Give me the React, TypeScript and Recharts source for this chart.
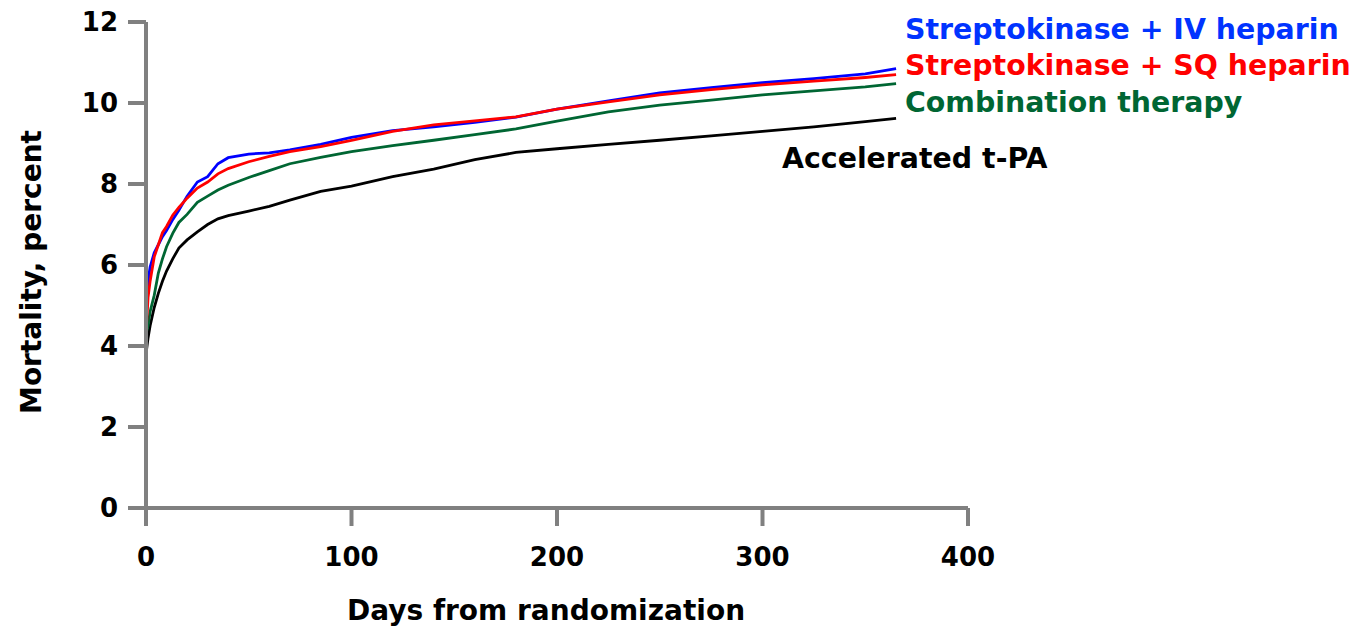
import { LineChart, Line, XAxis, YAxis } from "recharts";

const days = [0, 1, 2, 4, 6, 8, 10, 13, 16, 20, 25, 30, 35, 40, 50, 60, 70, 85, 100, 120, 140, 160, 180, 200, 225, 250, 275, 300, 325, 350, 365];

const ivHeparin = [4.6, 5.6, 5.95, 6.3, 6.5, 6.7, 6.85, 7.12, 7.35, 7.7, 8.05, 8.18, 8.5, 8.65, 8.74, 8.77, 8.84, 8.98, 9.15, 9.32, 9.41, 9.52, 9.65, 9.85, 10.05, 10.25, 10.38, 10.5, 10.6, 10.72, 10.85];
const sqHeparin = [4.3, 5.2, 5.6, 6.2, 6.5, 6.8, 6.95, 7.23, 7.42, 7.65, 7.9, 8.05, 8.25, 8.38, 8.55, 8.68, 8.8, 8.92, 9.08, 9.3, 9.46, 9.56, 9.66, 9.85, 10.03, 10.2, 10.33, 10.45, 10.54, 10.63, 10.7];
const combination = [4.3, 4.5, 4.85, 5.25, 5.8, 6.15, 6.45, 6.78, 7.05, 7.25, 7.55, 7.7, 7.85, 7.97, 8.16, 8.33, 8.5, 8.66, 8.8, 8.95, 9.08, 9.22, 9.36, 9.55, 9.78, 9.95, 10.07, 10.2, 10.3, 10.4, 10.48];
const tpa = [3.8, 4.2, 4.5, 4.95, 5.3, 5.6, 5.85, 6.15, 6.42, 6.62, 6.82, 7.0, 7.14, 7.22, 7.33, 7.45, 7.6, 7.82, 7.95, 8.18, 8.37, 8.6, 8.78, 8.87, 8.98, 9.08, 9.19, 9.3, 9.41, 9.54, 9.62];

const xTicks = [0, 100, 200, 300, 400];
const yTicks = [0, 2, 4, 6, 8, 10, 12];

const seriesLabels = [
  { name: "Streptokinase + IV heparin", color: "#0033ff", x: 905, y: 39 },
  { name: "Streptokinase + SQ heparin", color: "#ff0000", x: 905, y: 75 },
  { name: "Combination therapy", color: "#006633", x: 905, y: 112 },
  { name: "Accelerated t-PA", color: "#000000", x: 782, y: 168 },
];

const data = days.map((day, i) => ({
  day,
  iv: ivHeparin[i],
  sq: sqHeparin[i],
  combo: combination[i],
  tpa: tpa[i],
}));

const font = "'DejaVu Sans', Verdana, sans-serif";
const axisGray = "#808080";

export default function App() {
  const tickStyle = { fill: "#000", fontSize: 26, fontWeight: 700, fontFamily: font };
  return (
    <div style={{ position: "absolute", left: 0, top: 0, width: 1350, height: 629, background: "#fff" }}>
      <LineChart width={1350} height={629} data={data} margin={{ top: 22, right: 382, bottom: 0, left: 0 }}>
        <XAxis
          type="number"
          dataKey="day"
          domain={[0, 400]}
          ticks={xTicks}
          height={121}
          stroke={axisGray}
          strokeWidth={4}
          tickSize={18}
          tickMargin={22}
          tickLine={{ stroke: axisGray, strokeWidth: 4 }}
          tick={tickStyle}
        />
        <YAxis
          type="number"
          domain={[0, 12]}
          ticks={yTicks}
          width={146}
          stroke={axisGray}
          strokeWidth={4}
          tickSize={18}
          tickMargin={10}
          tickLine={{ stroke: axisGray, strokeWidth: 4 }}
          tick={tickStyle}
        />
        <Line type="linear" dataKey="tpa" stroke="#000000" strokeWidth={2.8} dot={false} isAnimationActive={false} />
        <Line type="linear" dataKey="combo" stroke="#006633" strokeWidth={2.8} dot={false} isAnimationActive={false} />
        <Line type="linear" dataKey="iv" stroke="#0000ff" strokeWidth={2.8} dot={false} isAnimationActive={false} />
        <Line type="linear" dataKey="sq" stroke="#ff0000" strokeWidth={2.8} dot={false} isAnimationActive={false} />
      </LineChart>
      <svg width={1350} height={629} style={{ position: "absolute", left: 0, top: 0, pointerEvents: "none" }}>
        {seriesLabels.map((s) => (
          <text key={s.name} x={s.x} y={s.y} fill={s.color} fontSize={28.4} fontWeight={700} fontFamily={font}>
            {s.name}
          </text>
        ))}
        <text x={546} y={620} textAnchor="middle" fontSize={28} fontWeight={700} fontFamily={font}>
          Days from randomization
        </text>
        <text
          x={0}
          y={0}
          transform="translate(41,272) rotate(-90)"
          textAnchor="middle"
          fontSize={28}
          fontWeight={700}
          fontFamily={font}
        >
          Mortality, percent
        </text>
      </svg>
    </div>
  );
}
